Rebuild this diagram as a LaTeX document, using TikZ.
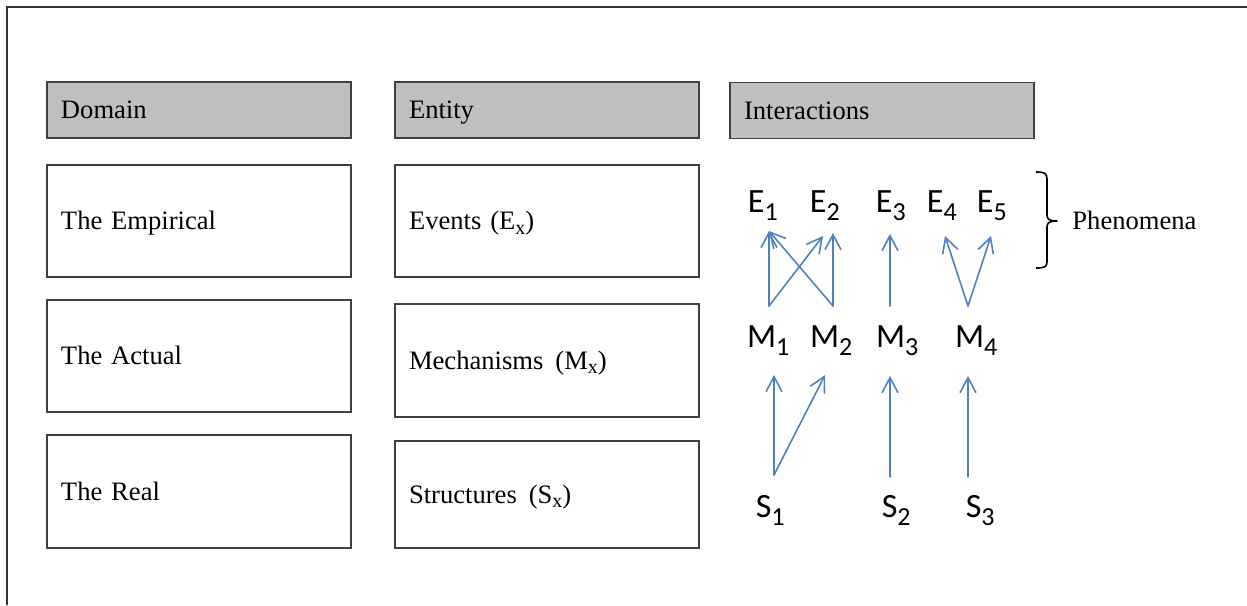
\documentclass[tikz,border=0pt]{standalone}
\usepackage{fontspec}
\setmainfont[WordSpace=0.8]{Liberation Serif}
\newfontfamily\lblfont{Carlito}
\usetikzlibrary{arrows.meta}
\definecolor{flowblue}{HTML}{4F81BD}
\definecolor{headgray}{HTML}{BFBFBF}
% lowered index for the interaction labels
\newcommand\idx[1]{\raisebox{-4pt}{\fontsize{13}{14}\selectfont #1}}
% lowered index in the entity names
\newcommand\ent[1]{\raisebox{-2.2pt}{\fontsize{10}{11}\selectfont #1}}
\begin{document}
\begin{tikzpicture}[x=0.5pt,y=-0.5pt,
  cell/.style={draw=black!75, line width=0.7pt, rectangle,
    inner xsep=7pt, inner ysep=0pt, text width=138pt, align=left,
    text height=8.8pt, text depth=0pt, minimum height=#1,
    font=\fontsize{13.3}{15}\selectfont},
  head/.style={cell=28pt, fill=headgray},
  lbl/.style={inner sep=0pt, anchor=base west,
    font=\lblfont\fontsize{17}{19}\selectfont},
  flow/.style={draw=flowblue, line width=0.8pt, line cap=round,
    -{Straight Barb[length=7.5pt,width=8pt]}}]
\useasboundingbox (0,0) rectangle (1247,605);

% outer frame (top and left edges)
\draw[line width=1pt, black!80] (7,605) -- (7,7) -- (1247,7);

% column headers
\node[head] (dom)   at (199,110)   {Domain};
\node[head] (ent)   at (547,110)   {Entity};
\node[head] (inter) at (882,110.5) {Interactions};

% domain column
\node[cell=56pt]   (emp)  at (199,221)   {The Empirical};
\node[cell=56pt]   (act)  at (199,356)   {The Actual};
\node[cell=56.5pt] (real) at (199,491.5) {The Real};

% entity column
\node[cell=56pt]   (ev)   at (547,221)   {Events (E\ent{x})};
\node[cell=56.5pt] (mech) at (547,360.5) {Mechanisms\hspace{0.45em}(M\ent{x})};
\node[cell=53.5pt] (str)  at (547,494.5) {Structures\hspace{0.45em}(S\ent{x})};

% events
\node[lbl] (E1) at (747.5,212) {E\idx{1}};
\node[lbl] (E2) at (809.5,212) {E\idx{2}};
\node[lbl] (E3) at (875.5,212) {E\idx{3}};
\node[lbl] (E4) at (926.5,212) {E\idx{4}};
\node[lbl] (E5) at (976.5,212) {E\idx{5}};
% mechanisms
\node[lbl] (M1) at (746.7,347) {M\idx{1}};
\node[lbl] (M2) at (809.7,347) {M\idx{2}};
\node[lbl] (M3) at (875.7,347) {M\idx{3}};
\node[lbl] (M4) at (954.7,347) {M\idx{4}};
% structures
\node[lbl] (S1) at (755.4,517) {S\idx{1}};
\node[lbl] (S2) at (881.4,517) {S\idx{2}};
\node[lbl] (S3) at (965.4,517) {S\idx{3}};

% arrow ports
\coordinate (E1in)  at (769,231);
\coordinate (E2inA) at (823,236);
\coordinate (E2inB) at (833,233);
\coordinate (E3in)  at (890,234);
\coordinate (E4in)  at (945,236);
\coordinate (E5in)  at (991,236);
\coordinate (M1out) at (769,306);
\coordinate (M2out) at (833,306);
\coordinate (M3out) at (890,306);
\coordinate (M4out) at (968,306);
\coordinate (M1in)  at (774,375);
\coordinate (M2in)  at (825,375);
\coordinate (M3in)  at (890,376);
\coordinate (M4in)  at (968,376);
\coordinate (S1out) at (774,475);
\coordinate (S2out) at (890,477);
\coordinate (S3out) at (968,477);

% mechanisms to events
\draw[flow] (M1out) -- (E1in);
\draw[flow] (M2out) -- (E1in);
\draw[flow] (M1out) -- (E2inA);
\draw[flow] (M2out) -- (E2inB);
\draw[flow] (M3out) -- (E3in);
\draw[flow] (M4out) -- (E4in);
\draw[flow] (M4out) -- (E5in);
% structures to mechanisms
\draw[flow] (S1out) -- (M1in);
\draw[flow] (S1out) -- (M2in);
\draw[flow] (S2out) -- (M3in);
\draw[flow] (S3out) -- (M4in);

% phenomena brace
\draw[line width=0.8pt, line join=round]
  (1036,172) .. controls (1044,172) and (1047,173) .. (1047,179)
  -- (1047,215) .. controls (1047,219) and (1049,221) .. (1057,221)
  .. controls (1049,221) and (1047,223) .. (1047,227)
  -- (1047,262) .. controls (1047,267) and (1044,268) .. (1036,268);
\node[inner sep=0pt, anchor=base west, font=\fontsize{13.3}{15}\selectfont]
  (phen) at (1072,229) {Phenomena};
\end{tikzpicture}
\end{document}
